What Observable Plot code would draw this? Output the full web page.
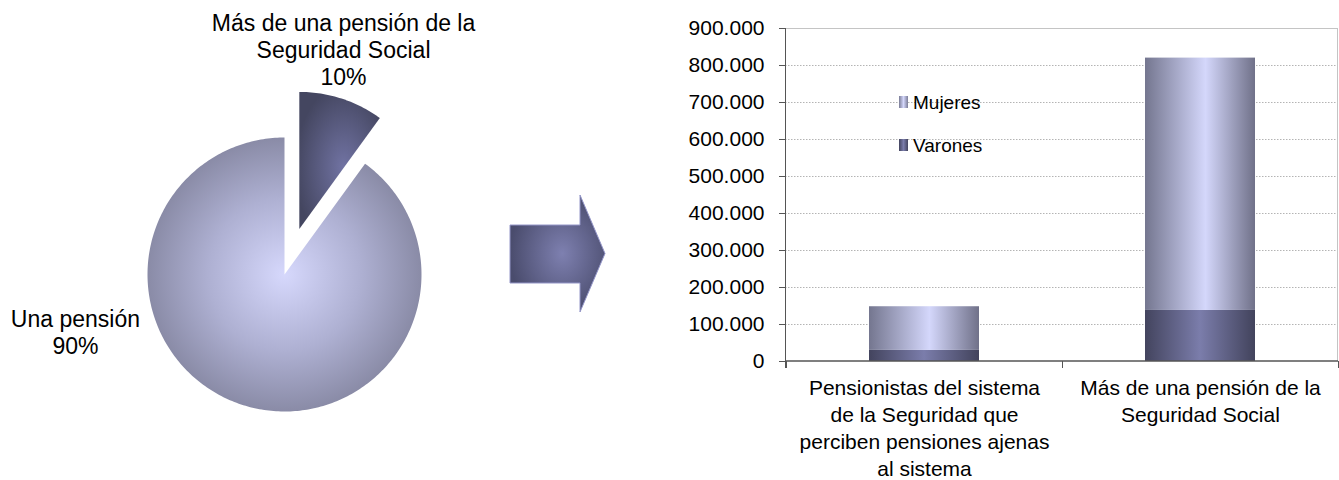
<!DOCTYPE html>
<html>
<head>
<meta charset="utf-8">
<script src="https://cdn.jsdelivr.net/npm/d3@7"></script>
<script src="https://cdn.jsdelivr.net/npm/@observablehq/plot@0.6"></script>
<style>
  body { margin: 0; background: #fff; font-family: "Liberation Sans", Arial, sans-serif; }
  #wrap { position: relative; width: 1339px; height: 480px; overflow: hidden; background: #fff; }
  #pie { position: absolute; left: 0; top: 0; }
  #bars { position: absolute; left: 680px; top: 0; }
  #arrow { position: absolute; left: 500px; top: 180px; }
  .leg { position: absolute; font-size: 19px; color: #000; line-height: 1; }
  .sw { position: absolute; width: 9px; height: 12px; }
</style>
</head>
<body>
<svg width="0" height="0" style="position:absolute">
  <defs>
    <radialGradient id="gPieBig" cx="0.5" cy="0.5" r="0.62">
      <stop offset="0" stop-color="#d6d8fc"/>
      <stop offset="0.45" stop-color="#aeb0d2"/>
      <stop offset="1" stop-color="#76778f"/>
    </radialGradient>
    <radialGradient id="gPieSmall" cx="0.55" cy="0.55" r="0.6">
      <stop offset="0" stop-color="#7173a3"/>
      <stop offset="1" stop-color="#444660"/>
    </radialGradient>
    <linearGradient id="gradM" x1="0" x2="1" y1="0" y2="0">
      <stop offset="0" stop-color="#74768f"/>
      <stop offset="0.55" stop-color="#d4d7fb"/>
      <stop offset="1" stop-color="#707189"/>
    </linearGradient>
    <linearGradient id="gradV" x1="0" x2="1" y1="0" y2="0">
      <stop offset="0" stop-color="#43445e"/>
      <stop offset="0.5" stop-color="#7b7dab"/>
      <stop offset="1" stop-color="#42435c"/>
    </linearGradient>
    <radialGradient id="gArrow" cx="0.55" cy="0.5" r="0.55">
      <stop offset="0" stop-color="#7e80b0"/>
      <stop offset="1" stop-color="#4a4c6d"/>
    </radialGradient>
  </defs>
</svg>
<div id="wrap">
  <div id="pie"></div>
  <svg id="arrow" width="120" height="150">
    <path d="M10,45 L80,45 L80,15 L105,73.5 L80,132 L80,103 L10,103 Z" fill="url(#gArrow)" stroke="#9496c8" stroke-width="1"/>
  </svg>
  <div id="bars"></div>
  <div class="sw" style="left:899px;top:96px;background:linear-gradient(to right,#7a7c96,#d4d7fb,#7a7c96)"></div>
  <div class="leg" style="left:913px;top:93px">Mujeres</div>
  <div class="sw" style="left:899px;top:139px;background:linear-gradient(to right,#43445e,#7b7dab,#43445e)"></div>
  <div class="leg" style="left:913px;top:136px">Varones</div>
</div>
<script>
// ---------- data ----------
const pieLabels = ["Más de una pensión de la\nSeguridad Social", "Una pensión"];
const pieShares = [10, 90];

const categories = [
  "Pensionistas del sistema de la Seguridad que perciben pensiones ajenas al sistema",
  "Más de una pensión de la Seguridad Social"
];
const categoryTickLabels = [
  "Pensionistas del sistema\nde la Seguridad que\nperciben pensiones ajenas\nal sistema",
  "Más de una pensión de la\nSeguridad Social"
];
const series = ["Mujeres", "Varones"];
const varones = [30000, 138000];
const mujeres = [118000, 682000];
const yTicks = [0, 100000, 200000, 300000, 400000, 500000, 600000, 700000, 800000, 900000];

// ---------- pie ----------
const FONT = "Liberation Sans, Arial, sans-serif";
const arcs = d3.pie().sort(null)(pieShares);
const explode = [0.35, 0];
const piePts = [];
arcs.forEach((a, i) => {
  const mid = (a.startAngle + a.endAngle) / 2;
  const cx = explode[i] * Math.sin(mid), cy = explode[i] * Math.cos(mid);
  piePts.push({slice: i, x: cx, y: cy});
  const n = Math.max(8, Math.ceil((a.endAngle - a.startAngle) / (Math.PI * 2) * 360));
  for (let k = 0; k <= n; k++) {
    const t = a.startAngle + (a.endAngle - a.startAngle) * k / n;
    piePts.push({slice: i, x: cx + Math.sin(t), y: cy + Math.cos(t)});
  }
  piePts.push({slice: i, x: cx, y: cy});
});
const pieFills = ["url(#gPieSmall)", "url(#gPieBig)"];
// label anchor positions (layout, in pie-radius units)
const labelAnchors = [[0.431, 1.642], [-1.526, -0.42]];
const pieText = pieShares.map((v, i) => ({
  x: labelAnchors[i][0], y: labelAnchors[i][1], text: pieLabels[i] + "\n" + v + "%"
}));

const pie = Plot.plot({
  width: 660, height: 480,
  marginTop: 0, marginBottom: 0, marginLeft: 0, marginRight: 0,
  style: {background: "transparent", fontFamily: FONT},
  x: {domain: [-1, 1], range: [147, 421], axis: null},
  y: {domain: [-1, 1], range: [411, 137], axis: null},
  marks: [
    ...pieShares.map((v, i) => Plot.line(piePts.filter(p => p.slice === i), {
      x: "x", y: "y", fill: pieFills[i], stroke: "none"
    })),
    Plot.text(pieText, {x: "x", y: "y", text: "text", fontSize: 23, lineHeight: 1.17, fill: "#000", fontFamily: FONT})
  ]
});
document.getElementById("pie").appendChild(pie);

// ---------- bars ----------
const rows = [];
categories.forEach((c, i) => {
  rows.push({category: c, sex: "Varones", value: varones[i]});
  rows.push({category: c, sex: "Mujeres", value: mujeres[i]});
});
const fmt = d => d3.format(",")(d).replace(/,/g, ".");

function frameLines(index, scales, values, dims) {
  const {width, height, marginLeft, marginRight, marginTop, marginBottom} = dims;
  const x0 = marginLeft, x1 = width - marginRight, yb = height - marginBottom, yt = marginTop;
  const g = d3.create("svg:g");
  g.append("line").attr("x1", x1 - 0.5).attr("x2", x1 - 0.5).attr("y1", yt).attr("y2", yb)
    .attr("stroke", "#c4c4c4");
  g.append("line").attr("x1", x0).attr("x2", x1).attr("y1", yt + 0.5).attr("y2", yt + 0.5)
    .attr("stroke", "#c4c4c4");
  g.append("line").attr("x1", x0 + 0.5).attr("x2", x0 + 0.5).attr("y1", yt).attr("y2", yb + 7)
    .attr("stroke", "#555");
  g.append("line").attr("x1", x0).attr("x2", x1).attr("y1", yb).attr("y2", yb)
    .attr("stroke", "#555").attr("stroke-width", 1.5);
  const bounds = categories.map(c => scales.x(c)).concat([x1 - 0.5]);
  bounds.forEach(bx => {
    g.append("line").attr("x1", Math.round(bx) + 0.5).attr("x2", Math.round(bx) + 0.5)
      .attr("y1", yb).attr("y2", yb + 7).attr("stroke", "#555");
  });
  return g.node();
}

const bars = Plot.plot({
  width: 659, height: 480,
  marginLeft: 105, marginRight: 1, marginTop: 28, marginBottom: 119,
  style: {background: "transparent", fontFamily: FONT, fontSize: "21px", color: "#000"},
  x: {domain: categories, padding: 0, axis: null},
  y: {domain: [0, 900000], axis: null},
  color: {domain: series, range: ["url(#gradM)", "url(#gradV)"]},
  marks: [
    Plot.ruleY(yTicks.filter(d => d > 0 && d < 900000), {stroke: "#b4b4b4", strokeDasharray: "1.5,1.5"}),
    Plot.barY(rows, {x: "category", y: "value", fill: "sex", insetLeft: 83, insetRight: 83}),
    frameLines,
    Plot.axisY({ticks: yTicks, tickSize: 6, tickPadding: 15, tickFormat: fmt, fontSize: 21, stroke: "#555", label: null}),
    Plot.axisX({tickSize: 0, tickPadding: 14, tickFormat: (d) => categoryTickLabels[categories.indexOf(d)],
      fontSize: 21, lineHeight: 1.29, label: null})
  ]
});
document.getElementById("bars").appendChild(bars);
</script>
</body>
</html>
